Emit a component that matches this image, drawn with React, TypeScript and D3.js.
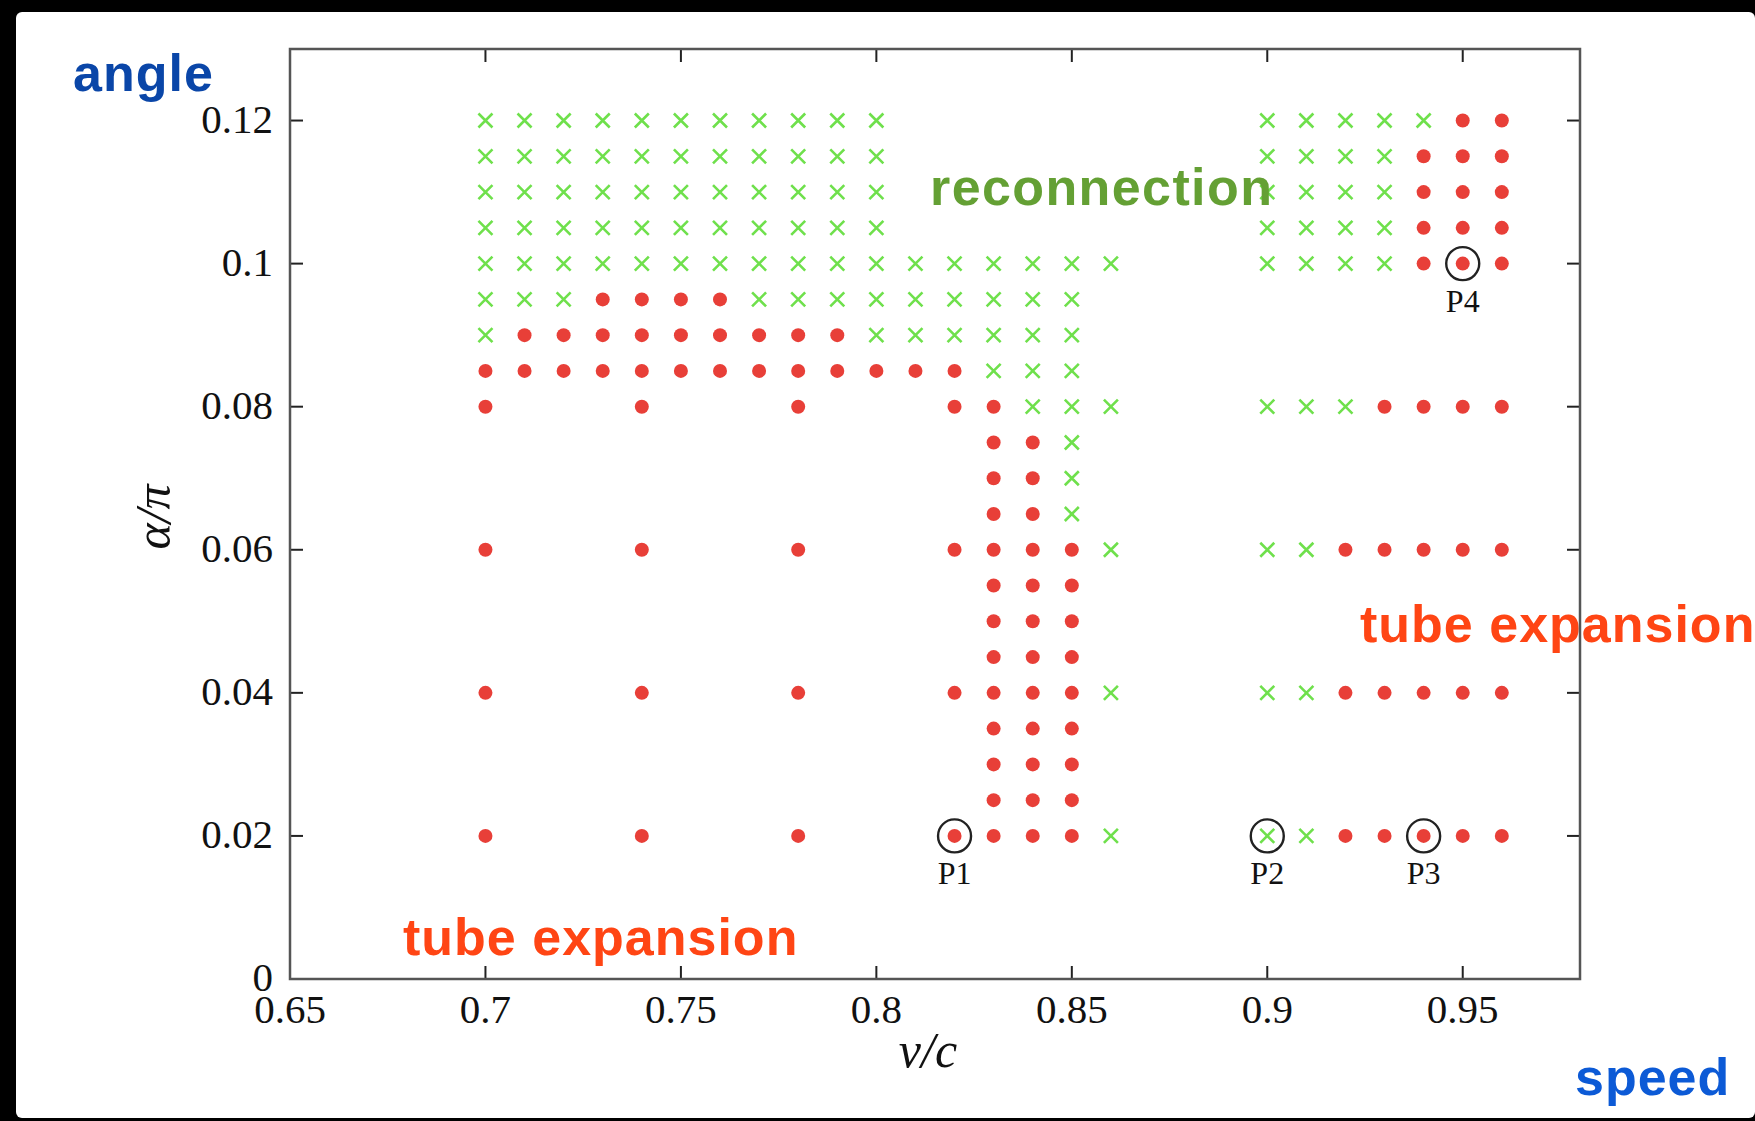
import React from "react";
import { scaleLinear } from "d3";

const W = 1755;
const H = 1121;

// axis ticks
const vTicks = [0.65, 0.7, 0.75, 0.8, 0.85, 0.9, 0.95];
const vTickLabels = ["0.65", "0.7", "0.75", "0.8", "0.85", "0.9", "0.95"];
const aTicks = [0, 0.02, 0.04, 0.06, 0.08, 0.1, 0.12];
const aTickLabels = ["0", "0.02", "0.04", "0.06", "0.08", "0.1", "0.12"];

// alpha/pi rows, top to bottom
const alphaRows = [
  0.12, 0.115, 0.11, 0.105, 0.1, 0.095, 0.09, 0.085, 0.08, 0.075, 0.07,
  0.065, 0.06, 0.055, 0.05, 0.045, 0.04, 0.035, 0.03, 0.025, 0.02,
];

// v/c of the reconnection runs (green x), one list per row
const reconnectionRows = [
  [0.7, 0.71, 0.72, 0.73, 0.74, 0.75, 0.76, 0.77, 0.78, 0.79, 0.8, 0.9, 0.91, 0.92, 0.93, 0.94],
  [0.7, 0.71, 0.72, 0.73, 0.74, 0.75, 0.76, 0.77, 0.78, 0.79, 0.8, 0.9, 0.91, 0.92, 0.93],
  [0.7, 0.71, 0.72, 0.73, 0.74, 0.75, 0.76, 0.77, 0.78, 0.79, 0.8, 0.9, 0.91, 0.92, 0.93],
  [0.7, 0.71, 0.72, 0.73, 0.74, 0.75, 0.76, 0.77, 0.78, 0.79, 0.8, 0.9, 0.91, 0.92, 0.93],
  [0.7, 0.71, 0.72, 0.73, 0.74, 0.75, 0.76, 0.77, 0.78, 0.79, 0.8, 0.81, 0.82, 0.83, 0.84, 0.85, 0.86, 0.9, 0.91, 0.92, 0.93],
  [0.7, 0.71, 0.72, 0.77, 0.78, 0.79, 0.8, 0.81, 0.82, 0.83, 0.84, 0.85],
  [0.7, 0.8, 0.81, 0.82, 0.83, 0.84, 0.85],
  [0.83, 0.84, 0.85],
  [0.84, 0.85, 0.86, 0.9, 0.91, 0.92],
  [0.85],
  [0.85],
  [0.85],
  [0.86, 0.9, 0.91],
  [],
  [],
  [],
  [0.86, 0.9, 0.91],
  [],
  [],
  [],
  [0.86, 0.9, 0.91],
];

// v/c of the tube expansion runs (red dots), one list per row
const expansionRows = [
  [0.95, 0.96],
  [0.94, 0.95, 0.96],
  [0.94, 0.95, 0.96],
  [0.94, 0.95, 0.96],
  [0.94, 0.95, 0.96],
  [0.73, 0.74, 0.75, 0.76],
  [0.71, 0.72, 0.73, 0.74, 0.75, 0.76, 0.77, 0.78, 0.79],
  [0.7, 0.71, 0.72, 0.73, 0.74, 0.75, 0.76, 0.77, 0.78, 0.79, 0.8, 0.81, 0.82],
  [0.7, 0.74, 0.78, 0.82, 0.83, 0.93, 0.94, 0.95, 0.96],
  [0.83, 0.84],
  [0.83, 0.84],
  [0.83, 0.84],
  [0.7, 0.74, 0.78, 0.82, 0.83, 0.84, 0.85, 0.92, 0.93, 0.94, 0.95, 0.96],
  [0.83, 0.84, 0.85],
  [0.83, 0.84, 0.85],
  [0.83, 0.84, 0.85],
  [0.7, 0.74, 0.78, 0.82, 0.83, 0.84, 0.85, 0.92, 0.93, 0.94, 0.95, 0.96],
  [0.83, 0.84, 0.85],
  [0.83, 0.84, 0.85],
  [0.83, 0.84, 0.85],
  [0.7, 0.74, 0.78, 0.82, 0.83, 0.84, 0.85, 0.92, 0.93, 0.94, 0.95, 0.96],
];

// circled sample runs
const markedNames = ["P1", "P2", "P3", "P4"];
const markedV = [0.82, 0.9, 0.94, 0.95];
const markedAlpha = [0.02, 0.02, 0.02, 0.1];

const left = 290;
const right = 1580;
const top = 49;
const bottom = 979;

const x = scaleLinear().domain([0.65, 0.98]).range([left, right]);
const y = scaleLinear().domain([0, 0.13]).range([bottom, top]);

const tickLen = 13;
const serif = "'Liberation Serif', 'DejaVu Serif', serif";
const sans = "'Liberation Sans', Arial, sans-serif";

const dotColor = "#e83f38";
const crossColor = "#6fe04c";
const crossR = 7;

export default function App() {
  const dots = expansionRows.flatMap((row, i) =>
    row.map((v) => ({ v, a: alphaRows[i] }))
  );
  const crosses = reconnectionRows.flatMap((row, i) =>
    row.map((v) => ({ v, a: alphaRows[i] }))
  );

  return (
    <svg
      width={W}
      height={H}
      style={{ position: "absolute", left: 0, top: 0, display: "block" }}
    >
      <rect x={0} y={0} width={W} height={H} fill="#000" />
      <rect x={16} y={12} width={W - 16} height={H - 15} rx={6} fill="#fff" />

      {/* ticks, inward on all four sides */}
      <g stroke="#222" strokeWidth={2}>
        {vTicks.map((t) => (
          <g key={`vt${t}`}>
            <line x1={x(t)} x2={x(t)} y1={bottom} y2={bottom - tickLen} />
            <line x1={x(t)} x2={x(t)} y1={top} y2={top + tickLen} />
          </g>
        ))}
        {aTicks.map((t) => (
          <g key={`at${t}`}>
            <line x1={left} x2={left + tickLen} y1={y(t)} y2={y(t)} />
            <line x1={right} x2={right - tickLen} y1={y(t)} y2={y(t)} />
          </g>
        ))}
      </g>

      <g fontFamily={serif} fontSize={41} fill="#111">
        {vTicks.map((t, i) => (
          <text key={`vl${t}`} x={x(t)} y={1023} textAnchor="middle">
            {vTickLabels[i]}
          </text>
        ))}
        {aTicks.map((t, i) => (
          <text key={`al${t}`} x={273} y={y(t) + 12} textAnchor="end">
            {aTickLabels[i]}
          </text>
        ))}
      </g>

      <text
        x={928}
        y={1067}
        textAnchor="middle"
        fontFamily={serif}
        fontStyle="italic"
        fontSize={50}
        fill="#111"
      >
        v/c
      </text>
      <text
        transform={`translate(170,${517}) rotate(-90)`}
        textAnchor="middle"
        fontFamily={serif}
        fontStyle="italic"
        fontSize={50}
        fill="#111"
      >
        α/π
      </text>

      {/* runs */}
      {dots.map((d, i) => (
        <circle key={`d${i}`} cx={x(d.v)} cy={y(d.a)} r={7} fill={dotColor} />
      ))}
      <g stroke={crossColor} strokeWidth={2.6}>
        {crosses.map((d, i) => {
          const cx = x(d.v);
          const cy = y(d.a);
          return (
            <path
              key={`c${i}`}
              d={`M${cx - crossR},${cy - crossR}L${cx + crossR},${cy + crossR}M${cx - crossR},${cy + crossR}L${cx + crossR},${cy - crossR}`}
            />
          );
        })}
      </g>

      {markedNames.map((name, i) => (
        <g key={name}>
          <circle
            cx={x(markedV[i])}
            cy={y(markedAlpha[i])}
            r={16.5}
            fill="none"
            stroke="#222"
            strokeWidth={2.4}
          />
          <text
            x={x(markedV[i])}
            y={y(markedAlpha[i]) + 48}
            textAnchor="middle"
            fontFamily={serif}
            fontSize={32}
            fill="#111"
          >
            {name}
          </text>
        </g>
      ))}

      {/* annotations */}
      <g fontFamily={sans} fontWeight="bold" fontSize={52} letterSpacing={1}>
        <text x={73} y={91} fill="#0a46a8">
          angle
        </text>
        <text x={930} y={205} fill="#64a034" letterSpacing={1.4}>
          reconnection
        </text>
        <text x={403} y={955} fill="#ff4514">
          tube expansion
        </text>
        <text x={1360} y={642} fill="#ff4514">
          tube expansion
        </text>
        <text x={1575} y={1095} fill="#0c5ad6">
          speed
        </text>
      </g>

      <rect
        x={left}
        y={top}
        width={right - left}
        height={bottom - top}
        fill="none"
        stroke="#555"
        strokeWidth={2.5}
      />
    </svg>
  );
}
